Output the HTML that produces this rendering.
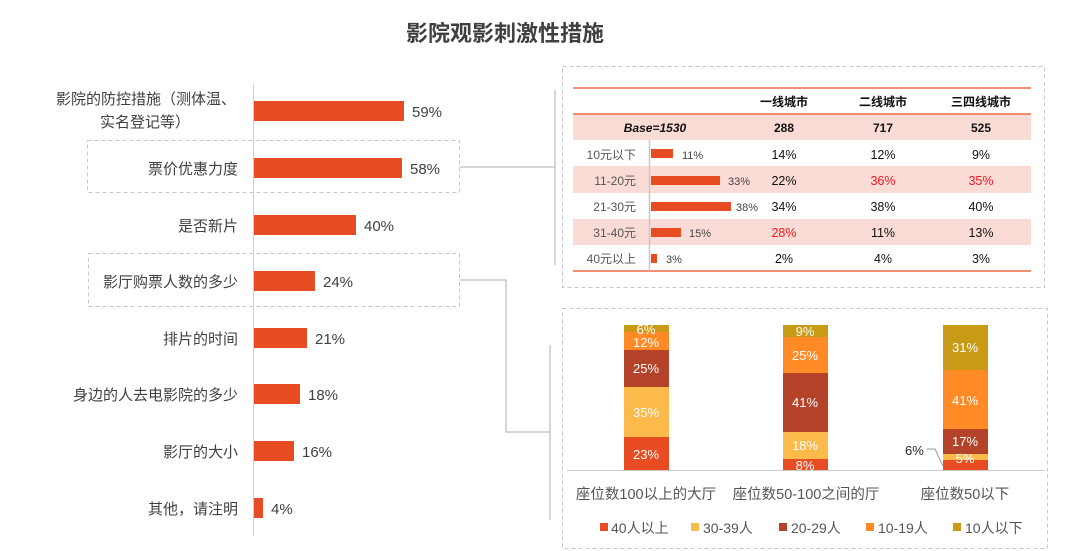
<!DOCTYPE html>
<html><head><meta charset="utf-8"><style>
body{margin:0;width:1091px;height:551px;background:#fff;font-family:"Liberation Sans","Noto Sans CJK SC",sans-serif;position:relative;overflow:hidden;color:#333}
.a{position:absolute;white-space:nowrap}
</style></head><body>
<svg width="1091" height="551" style="position:absolute;left:0;top:0" font-family="Liberation Sans, Noto Sans CJK SC, sans-serif">
<text x="505" y="41" text-anchor="middle" font-size="22" font-weight="bold" fill="#404040">影院观影刺激性措施</text>
<!-- left chart -->
<line x1="253.5" y1="84" x2="253.5" y2="536" stroke="#d0d0d0" stroke-width="1"/>
<g fill="#E84C22">
<rect x="254" y="101" width="150" height="20"/>
<rect x="254" y="158" width="148" height="20"/>
<rect x="254" y="215" width="102" height="20"/>
<rect x="254" y="271" width="61" height="20"/>
<rect x="254" y="328" width="53" height="20"/>
<rect x="254" y="384" width="46" height="20"/>
<rect x="254" y="441" width="40" height="20"/>
<rect x="254" y="498" width="9" height="20"/>
</g>
<g font-size="15" fill="#404040">
<text x="412" y="117">59%</text><text x="410" y="174">58%</text><text x="364" y="231">40%</text>
<text x="323" y="287">24%</text><text x="315" y="344">21%</text><text x="308" y="400">18%</text>
<text x="302" y="457">16%</text><text x="271" y="514">4%</text>
</g>
<g font-size="15" fill="#404040" text-anchor="end">
<text x="236" y="104">影院的防控措施（测体温、</text><text x="190" y="127">实名登记等）</text>
<text x="238" y="174">票价优惠力度</text><text x="238" y="231">是否新片</text>
<text x="238" y="287">影厅购票人数的多少</text><text x="238" y="344">排片的时间</text>
<text x="238" y="400">身边的人去电影院的多少</text><text x="238" y="457">影厅的大小</text>
<text x="238" y="514">其他，请注明</text>
</g>
<g fill="none" stroke="#c8c8c8" stroke-dasharray="4,3">
<rect x="87.5" y="140.5" width="372" height="52"/>
<rect x="88.5" y="253.5" width="371" height="53"/>
<rect x="562.5" y="66.5" width="482" height="221"/>
<rect x="562.5" y="308.5" width="485" height="240"/>
</g>
<g stroke="#c8c8c8" stroke-width="1.5" fill="none">
<polyline points="460,167 555,167"/><line x1="555" y1="90" x2="555" y2="265"/>
<polyline points="460,280 506,280 506,432 550,432"/><line x1="550" y1="345" x2="550" y2="520"/>
</g>
<!-- table -->
<rect x="573" y="114" width="458" height="26" fill="#FADBD6"/>
<rect x="573" y="166" width="458" height="27" fill="#FADBD6"/>
<rect x="573" y="219" width="458" height="26" fill="#FADBD6"/>
<g stroke="#EE6A4A" stroke-width="1.5"><line x1="573" y1="88" x2="1031" y2="88"/><line x1="573" y1="114" x2="1031" y2="114"/><line x1="573" y1="271" x2="1031" y2="271"/></g>
<line x1="649.5" y1="140" x2="649.5" y2="271" stroke="#c8c8c8" stroke-width="1.5"/>
<g font-size="12" font-weight="bold" fill="#111" text-anchor="middle">
<text x="784" y="106">一线城市</text><text x="883" y="106">二线城市</text><text x="981" y="106">三四线城市</text>
<text x="655" y="132" font-style="italic">Base=1530</text>
<text x="784" y="132">288</text><text x="883" y="132">717</text><text x="981" y="132">525</text>
</g>
<g font-size="12" fill="#555" text-anchor="end">
<text x="636" y="159">10元以下</text><text x="636" y="185">11-20元</text><text x="636" y="211">21-30元</text><text x="636" y="237">31-40元</text><text x="636" y="263">40元以上</text>
</g>
<g fill="#E84C22">
<rect x="651" y="149" width="22" height="9"/><rect x="651" y="176" width="69" height="9"/><rect x="651" y="202" width="80" height="9"/><rect x="651" y="228" width="30" height="9"/><rect x="651" y="254" width="6" height="9"/>
</g>
<g font-size="11" fill="#444">
<text x="682" y="159">11%</text><text x="728" y="185">33%</text><text x="736" y="211">38%</text><text x="689" y="237">15%</text><text x="666" y="263">3%</text>
</g>
<g font-size="12.5" fill="#111" text-anchor="middle">
<text x="784" y="159">14%</text><text x="883" y="159">12%</text><text x="981" y="159">9%</text>
<text x="784" y="185">22%</text><text x="883" y="185" fill="#F0161F">36%</text><text x="981" y="185" fill="#F0161F">35%</text>
<text x="784" y="211">34%</text><text x="883" y="211">38%</text><text x="981" y="211">40%</text>
<text x="784" y="237" fill="#F0161F">28%</text><text x="883" y="237">11%</text><text x="981" y="237">13%</text>
<text x="784" y="263">2%</text><text x="883" y="263">4%</text><text x="981" y="263">3%</text>
</g>
<!-- stacked -->
<g>
<rect x="624" y="437" width="45" height="33" fill="#E84C22"/><rect x="624" y="387" width="45" height="50" fill="#FBBA4A"/><rect x="624" y="350" width="45" height="37" fill="#B5432A"/><rect x="624" y="332" width="45" height="18" fill="#FF8A26"/><rect x="624" y="325" width="45" height="7" fill="#C99A16"/>
<rect x="783" y="459" width="45" height="11" fill="#E84C22"/><rect x="783" y="432" width="45" height="27" fill="#FBBA4A"/><rect x="783" y="373" width="45" height="59" fill="#B5432A"/><rect x="783" y="337" width="45" height="36" fill="#FF8A26"/><rect x="783" y="325" width="45" height="12" fill="#C99A16"/>
<rect x="943" y="460" width="45" height="10" fill="#E84C22"/><rect x="943" y="454" width="45" height="6" fill="#FBBA4A"/><rect x="943" y="429" width="45" height="25" fill="#B5432A"/><rect x="943" y="370" width="45" height="59" fill="#FF8A26"/><rect x="943" y="325" width="45" height="45" fill="#C99A16"/>
</g>
<line x1="567" y1="470.5" x2="1045" y2="470.5" stroke="#ccc"/>
<g font-size="13" fill="#fff" text-anchor="middle">
<text x="646" y="459">23%</text><text x="646" y="417">35%</text><text x="646" y="373">25%</text><text x="646" y="347">12%</text><text x="646" y="334">6%</text>
<text x="805" y="470">8%</text><text x="805" y="450">18%</text><text x="805" y="407">41%</text><text x="805" y="360">25%</text><text x="805" y="336">9%</text>
<text x="965" y="463">5%</text><text x="965" y="446">17%</text><text x="965" y="405">41%</text><text x="965" y="352">31%</text>
</g>
<text x="905" y="455" font-size="13" fill="#222">6%</text>
<polyline points="927,449 935,449 943,466" fill="none" stroke="#999"/>
<g font-size="14.5" fill="#555" text-anchor="middle">
<text x="646" y="499">座位数100以上的大厅</text><text x="806" y="499">座位数50-100之间的厅</text><text x="965" y="499">座位数50以下</text>
</g>
<g font-size="14" fill="#555">
<rect x="600" y="523" width="8" height="8" fill="#E84C22"/><text x="611" y="533">40人以上</text>
<rect x="691" y="523" width="8" height="8" fill="#FBBA4A"/><text x="703" y="533">30-39人</text>
<rect x="779" y="523" width="8" height="8" fill="#B5432A"/><text x="791" y="533">20-29人</text>
<rect x="866" y="523" width="8" height="8" fill="#FF8A26"/><text x="878" y="533">10-19人</text>
<rect x="953" y="523" width="8" height="8" fill="#C99A16"/><text x="965" y="533">10人以下</text>
</g>
</svg>
</body></html>
